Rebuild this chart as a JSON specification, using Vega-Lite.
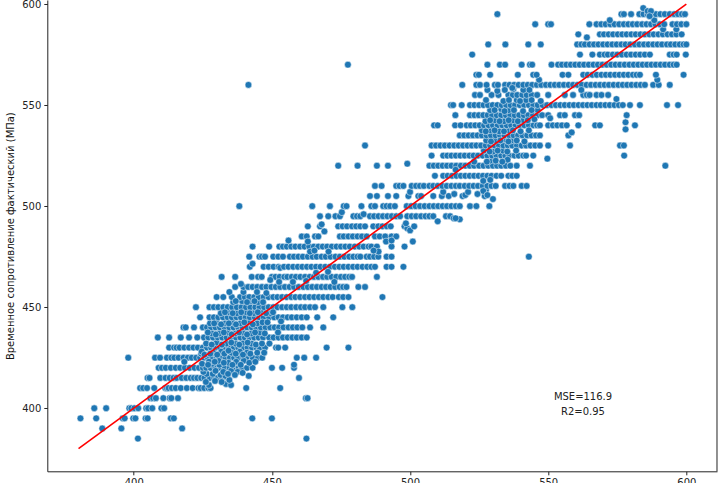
{
  "$schema": "https://vega.github.io/schema/vega-lite/v6.json",
  "width": 669.7,
  "height": 471.3,
  "autosize": "none",
  "padding": {"left": 47.3, "top": 0, "right": 7, "bottom": 12},
  "background": "white",
  "config": {
    "view": {"stroke": null},
    "font": "DejaVu Sans",
    "axis": {"grid": false, "domainColor": "#222222", "tickColor": "#222222", "labelColor": "#222222", "titleColor": "#111111", "labelFontSize": 10, "titleFontSize": 10, "titleFontWeight": "normal", "tickSize": 3.5, "labelPadding": 3, "domainWidth": 1, "tickWidth": 1, "titlePadding": 6}
  },
  "datasets": {
    "points": [
{"x":401.5,"y":385},{"x":462.5,"y":385},
{"x":388.6,"y":390},{"x":395.5,"y":390},{"x":417.5,"y":390},
{"x":380.7,"y":395},{"x":386.4,"y":395},{"x":396,"y":395},{"x":396.7,"y":395},{"x":399.8,"y":395},{"x":400.6,"y":395},{"x":404.3,"y":395},{"x":405,"y":395},{"x":413.4,"y":395},{"x":414.5,"y":395},{"x":442.9,"y":395},{"x":450,"y":395},
{"x":385.7,"y":400},{"x":390,"y":400},{"x":398.4,"y":400},{"x":399.1,"y":400},{"x":400.2,"y":400},{"x":401.6,"y":400},{"x":404.5,"y":400},{"x":405.2,"y":400},{"x":406.7,"y":400},{"x":410,"y":400},{"x":411,"y":400},
{"x":406,"y":405},{"x":407,"y":405},{"x":408,"y":405},{"x":410.7,"y":405},{"x":413,"y":405},{"x":413.6,"y":405},{"x":416,"y":405},{"x":462.3,"y":405},{"x":462.9,"y":405},
{"x":402.3,"y":410},{"x":403.4,"y":410},{"x":404.8,"y":410},{"x":407.4,"y":410},{"x":411.4,"y":410},{"x":412,"y":410},{"x":412.6,"y":410},{"x":413.8,"y":410},{"x":415.2,"y":410},{"x":417,"y":410},{"x":419.2,"y":410},{"x":421.3,"y":410},{"x":423.4,"y":410},{"x":424.2,"y":410},{"x":425.5,"y":410},{"x":427,"y":410},{"x":427.8,"y":410},{"x":440.7,"y":410},{"x":453,"y":410},{"x":427.2,"y":411.5},{"x":433.4,"y":412},{"x":435.2,"y":411.5},
{"x":405,"y":415},{"x":405.7,"y":415},{"x":409.6,"y":415},{"x":411.5,"y":415},{"x":413,"y":415},{"x":414.4,"y":415},{"x":415.5,"y":415},{"x":417.4,"y":415},{"x":419,"y":415},{"x":420.6,"y":415},{"x":421.8,"y":415},{"x":423,"y":415},{"x":424.4,"y":415},{"x":425.6,"y":415},{"x":427.5,"y":415},{"x":429.1,"y":415},{"x":430.3,"y":415},{"x":432,"y":415},{"x":434,"y":415},{"x":459.8,"y":415},{"x":426.4,"y":417},{"x":425.2,"y":418},{"x":431.4,"y":416.5},{"x":428.6,"y":417},{"x":433.2,"y":416},
{"x":409,"y":420},{"x":410.2,"y":420},{"x":411.6,"y":420},{"x":413.4,"y":420},{"x":415.2,"y":420},{"x":416.8,"y":420},{"x":418.5,"y":420},{"x":420.2,"y":420},{"x":422,"y":420},{"x":423.6,"y":420},{"x":425,"y":420},{"x":426.2,"y":420},{"x":427.8,"y":420},{"x":429.5,"y":420},{"x":431.3,"y":420},{"x":433,"y":420},{"x":434.7,"y":420},{"x":436.4,"y":420},{"x":438,"y":420},{"x":439.2,"y":420},{"x":441,"y":420},{"x":443,"y":420},{"x":450,"y":420},{"x":453.7,"y":420},{"x":458,"y":420},{"x":458,"y":421.5},{"x":435.2,"y":418.5},{"x":437.6,"y":418},{"x":431,"y":421.5},{"x":428.4,"y":422},
{"x":398,"y":425},{"x":407.7,"y":425},{"x":409.5,"y":425},{"x":412,"y":425},{"x":413.6,"y":425},{"x":414.7,"y":425},{"x":416.2,"y":425},{"x":418,"y":425},{"x":419.6,"y":425},{"x":421,"y":425},{"x":422.6,"y":425},{"x":424,"y":425},{"x":425.4,"y":425},{"x":426.8,"y":425},{"x":428.5,"y":425},{"x":430,"y":425},{"x":431.6,"y":425},{"x":433.2,"y":425},{"x":434.8,"y":425},{"x":436.3,"y":425},{"x":437.8,"y":425},{"x":439.6,"y":425},{"x":440.8,"y":425},{"x":443,"y":425},{"x":445,"y":425},{"x":446.5,"y":425},{"x":459,"y":425},{"x":461.7,"y":425},{"x":466,"y":425},{"x":418.3,"y":423},{"x":424.4,"y":427},{"x":427.2,"y":423},{"x":430.7,"y":423.5},{"x":434.3,"y":422.5},{"x":437.1,"y":423},{"x":439.8,"y":423.5},
{"x":412.8,"y":430},{"x":414.6,"y":430},{"x":415.5,"y":430},{"x":416.6,"y":430},{"x":418.3,"y":430},{"x":420,"y":430},{"x":421.6,"y":430},{"x":423.2,"y":430},{"x":425,"y":430},{"x":426.5,"y":430},{"x":428,"y":430},{"x":429.7,"y":430},{"x":431.2,"y":430},{"x":433,"y":430},{"x":434.5,"y":430},{"x":436.2,"y":430},{"x":437.8,"y":430},{"x":439.5,"y":430},{"x":441.2,"y":430},{"x":442.8,"y":430},{"x":444.4,"y":430},{"x":445.6,"y":430},{"x":447.5,"y":430},{"x":451.5,"y":430},{"x":452.3,"y":430},{"x":454.8,"y":430},{"x":469.8,"y":430},{"x":477.7,"y":430},{"x":424.6,"y":428},{"x":428.8,"y":427.5},{"x":431.7,"y":428},{"x":435.4,"y":427.5},{"x":438.4,"y":428},{"x":441,"y":427.5},{"x":433.5,"y":432},{"x":430,"y":432.5},{"x":436.8,"y":432},{"x":439.7,"y":432.5},{"x":442.6,"y":432},
{"x":408.7,"y":435},{"x":412.8,"y":435},{"x":417,"y":435},{"x":420,"y":435},{"x":423,"y":435},{"x":425.4,"y":435},{"x":427,"y":435},{"x":428.7,"y":435},{"x":430.4,"y":435},{"x":432,"y":435},{"x":433.6,"y":435},{"x":435.2,"y":435},{"x":437,"y":435},{"x":438.6,"y":435},{"x":440.2,"y":435},{"x":441.9,"y":435},{"x":443.6,"y":435},{"x":445.2,"y":435},{"x":446.8,"y":435},{"x":449,"y":435},{"x":450.6,"y":435},{"x":452.4,"y":435},{"x":454,"y":435},{"x":455.7,"y":435},{"x":457.4,"y":435},{"x":459,"y":435},{"x":460.8,"y":435},{"x":462.6,"y":435},{"x":431,"y":437},{"x":434,"y":437.5},{"x":436.7,"y":437},{"x":439.4,"y":437.5},{"x":442.5,"y":437},{"x":445.7,"y":437.5},{"x":428.3,"y":437},
{"x":418,"y":440},{"x":418.8,"y":440},{"x":421.8,"y":440},{"x":425,"y":440},{"x":426.5,"y":440},{"x":428,"y":440},{"x":429.6,"y":440},{"x":431.2,"y":440},{"x":432.9,"y":440},{"x":434.6,"y":440},{"x":436.1,"y":440},{"x":437.8,"y":440},{"x":439.4,"y":440},{"x":441,"y":440},{"x":442.7,"y":440},{"x":444.3,"y":440},{"x":446,"y":440},{"x":447.7,"y":440},{"x":449.4,"y":440},{"x":451,"y":440},{"x":452.6,"y":440},{"x":454.2,"y":440},{"x":456,"y":440},{"x":457.6,"y":440},{"x":459.2,"y":440},{"x":461,"y":440},{"x":463.8,"y":440},{"x":468.6,"y":440},{"x":430,"y":442.5},{"x":433,"y":442},{"x":435.7,"y":442.5},{"x":438.5,"y":442},{"x":441.6,"y":442.5},{"x":444.7,"y":442},{"x":427.6,"y":442},
{"x":424,"y":445},{"x":427.4,"y":445},{"x":429,"y":445},{"x":430.6,"y":445},{"x":432.3,"y":445},{"x":434,"y":445},{"x":435.5,"y":445},{"x":437.2,"y":445},{"x":438.8,"y":445},{"x":440.5,"y":445},{"x":442,"y":445},{"x":443.8,"y":445},{"x":445.4,"y":445},{"x":447,"y":445},{"x":449,"y":445},{"x":450.8,"y":445},{"x":452.4,"y":445},{"x":454,"y":445},{"x":455.7,"y":445},{"x":457.2,"y":445},{"x":459,"y":445},{"x":460.8,"y":445},{"x":462.6,"y":445},{"x":466.4,"y":445},{"x":472.2,"y":445},{"x":431.5,"y":447},{"x":434.2,"y":447.5},{"x":437.3,"y":447},{"x":440.7,"y":447.5},{"x":443.4,"y":447},{"x":446.3,"y":447.5},{"x":449.5,"y":447},{"x":453.3,"y":443},
{"x":422.5,"y":450},{"x":427.4,"y":450},{"x":429,"y":450},{"x":430.6,"y":450},{"x":432.4,"y":450},{"x":434,"y":450},{"x":435.6,"y":450},{"x":437.3,"y":450},{"x":439,"y":450},{"x":440.6,"y":450},{"x":442.2,"y":450},{"x":444,"y":450},{"x":445.5,"y":450},{"x":447.2,"y":450},{"x":448.8,"y":450},{"x":450.5,"y":450},{"x":452,"y":450},{"x":453.7,"y":450},{"x":455.4,"y":450},{"x":457,"y":450},{"x":458.8,"y":450},{"x":460.5,"y":450},{"x":462,"y":450},{"x":463.8,"y":450},{"x":465.6,"y":450},{"x":468.6,"y":450},{"x":475.5,"y":450},{"x":479.1,"y":450},{"x":436,"y":452.5},{"x":439.2,"y":453},{"x":442.4,"y":453},{"x":445,"y":452.5},
{"x":430,"y":455},{"x":432.4,"y":455},{"x":435.5,"y":455},{"x":438.5,"y":455},{"x":440.2,"y":455},{"x":441.8,"y":455},{"x":443.6,"y":455},{"x":445.2,"y":455},{"x":447,"y":455},{"x":448.8,"y":455},{"x":450.5,"y":455},{"x":452,"y":455},{"x":453.7,"y":455},{"x":455.3,"y":455},{"x":457,"y":455},{"x":458.5,"y":455},{"x":460.2,"y":455},{"x":462,"y":455},{"x":463.6,"y":455},{"x":465.3,"y":455},{"x":467,"y":455},{"x":468.6,"y":455},{"x":470.4,"y":455},{"x":472,"y":455},{"x":474.2,"y":455},{"x":475.8,"y":455},{"x":477.7,"y":455},{"x":490,"y":455},{"x":439.7,"y":457.5},{"x":434.6,"y":457.5},
{"x":436.7,"y":460},{"x":439.7,"y":460},{"x":441.4,"y":460},{"x":443,"y":460},{"x":444.7,"y":460},{"x":446.4,"y":460},{"x":448,"y":460},{"x":449.8,"y":460},{"x":451.4,"y":460},{"x":453,"y":460},{"x":454.7,"y":460},{"x":456.4,"y":460},{"x":458,"y":460},{"x":459.7,"y":460},{"x":461.4,"y":460},{"x":463,"y":460},{"x":464.6,"y":460},{"x":466.3,"y":460},{"x":468,"y":460},{"x":469.6,"y":460},{"x":471.2,"y":460},{"x":472.9,"y":460},{"x":474.5,"y":460},{"x":475.8,"y":460},{"x":477,"y":460},{"x":481.3,"y":460},{"x":483.7,"y":460},{"x":438.8,"y":461.5},
{"x":431.8,"y":465},{"x":436.7,"y":465},{"x":442.7,"y":465},{"x":445,"y":465},{"x":446.3,"y":465},{"x":450,"y":465},{"x":451.3,"y":465},{"x":452.8,"y":465},{"x":454.5,"y":465},{"x":455.6,"y":465},{"x":457.2,"y":465},{"x":458.7,"y":465},{"x":460.3,"y":465},{"x":462,"y":465},{"x":463.7,"y":465},{"x":465.2,"y":465},{"x":466.8,"y":465},{"x":468.5,"y":465},{"x":470,"y":465},{"x":471.6,"y":465},{"x":473.3,"y":465},{"x":475,"y":465},{"x":476.5,"y":465},{"x":478,"y":465},{"x":479,"y":465},{"x":488,"y":465},{"x":449.4,"y":463.5},{"x":457.6,"y":462.5},{"x":462.4,"y":463},{"x":472.6,"y":462.5},
{"x":442,"y":470},{"x":443,"y":471.5},{"x":447,"y":470},{"x":448.8,"y":470},{"x":450.6,"y":470},{"x":452.4,"y":470},{"x":453,"y":469.5},{"x":454.4,"y":470},{"x":456,"y":470},{"x":457.7,"y":470},{"x":459.4,"y":470},{"x":461,"y":470},{"x":462.7,"y":470},{"x":464.3,"y":470},{"x":466,"y":470},{"x":467.6,"y":470},{"x":469.3,"y":470},{"x":471,"y":470},{"x":472.8,"y":470},{"x":474.4,"y":470},{"x":476,"y":470},{"x":477.7,"y":470},{"x":479.4,"y":470},{"x":481,"y":470},{"x":482.8,"y":470},{"x":484.5,"y":470},{"x":486,"y":470},{"x":487.3,"y":470},{"x":491.5,"y":470},{"x":493.3,"y":470},{"x":497.6,"y":470},{"x":470.3,"y":467.5},{"x":466,"y":467},
{"x":441.8,"y":475},{"x":445.5,"y":475},{"x":446.4,"y":475},{"x":447.5,"y":475},{"x":450.5,"y":475},{"x":452.3,"y":475},{"x":454,"y":475},{"x":456.5,"y":475},{"x":458,"y":475},{"x":459.6,"y":475},{"x":461.2,"y":475},{"x":463,"y":475},{"x":464.7,"y":475},{"x":466.2,"y":475},{"x":468,"y":475},{"x":469.5,"y":475},{"x":471.2,"y":475},{"x":473,"y":475},{"x":474.6,"y":475},{"x":476.2,"y":475},{"x":478,"y":475},{"x":479.5,"y":475},{"x":481,"y":475},{"x":482,"y":475},{"x":484.3,"y":475},{"x":485.5,"y":475},{"x":487,"y":475},{"x":488.5,"y":475},{"x":491.5,"y":475},{"x":493.3,"y":475},{"x":543,"y":475},
{"x":443,"y":480},{"x":449,"y":480},{"x":452.7,"y":480},{"x":454,"y":480},{"x":455.4,"y":480},{"x":457,"y":480},{"x":458.5,"y":480},{"x":460.2,"y":480},{"x":461.8,"y":480},{"x":463.5,"y":480},{"x":465.2,"y":480},{"x":466.8,"y":480},{"x":468.4,"y":480},{"x":470,"y":480},{"x":471.7,"y":480},{"x":473.4,"y":480},{"x":475,"y":480},{"x":476.6,"y":480},{"x":478.2,"y":480},{"x":480,"y":480},{"x":481.6,"y":480},{"x":483.2,"y":480},{"x":485,"y":480},{"x":486,"y":480},{"x":488,"y":480},{"x":493.3,"y":480},{"x":498,"y":480},{"x":463.8,"y":477.5},{"x":465.4,"y":478},{"x":470.5,"y":477.5},{"x":488.6,"y":477.5},{"x":486.8,"y":478},
{"x":456,"y":483},{"x":460.8,"y":485},{"x":462.6,"y":485},{"x":465.6,"y":485},{"x":466.8,"y":485},{"x":474.6,"y":485},{"x":476,"y":485},{"x":477.7,"y":485},{"x":479.3,"y":485},{"x":481,"y":485},{"x":482.6,"y":485},{"x":484.3,"y":485},{"x":487.3,"y":485},{"x":489,"y":485},{"x":491,"y":485},{"x":493.3,"y":485},{"x":495,"y":485},{"x":463,"y":482.5},{"x":491.3,"y":482.5},{"x":493.3,"y":483},{"x":501,"y":482.5},
{"x":463,"y":490},{"x":467.4,"y":490},{"x":474,"y":490},{"x":475.6,"y":490},{"x":477.2,"y":490},{"x":479,"y":490},{"x":480.5,"y":490},{"x":482,"y":490},{"x":483.7,"y":490},{"x":486.7,"y":490},{"x":488.5,"y":490},{"x":490,"y":490},{"x":491.6,"y":490},{"x":493,"y":490},{"x":498,"y":490},{"x":499,"y":489},{"x":500,"y":488},{"x":469,"y":487.5},{"x":468,"y":491},{"x":498.5,"y":491.5},{"x":501.5,"y":490},
{"x":467.4,"y":495},{"x":470.4,"y":495},{"x":473,"y":495},{"x":474.6,"y":495},{"x":479.5,"y":495},{"x":480.8,"y":495},{"x":482,"y":495},{"x":483.2,"y":496},{"x":485.5,"y":495},{"x":487,"y":495},{"x":488.6,"y":495},{"x":490.2,"y":495},{"x":491.8,"y":495},{"x":493.4,"y":495},{"x":495,"y":495},{"x":496.4,"y":495},{"x":499,"y":495},{"x":500.6,"y":495},{"x":502.2,"y":495},{"x":504,"y":495},{"x":505.6,"y":495},{"x":507,"y":495},{"x":508.4,"y":495},{"x":510,"y":492.5},{"x":513,"y":495},{"x":514.5,"y":495},{"x":515.8,"y":494},{"x":518,"y":493.5},{"x":516.5,"y":494},{"x":475.3,"y":497},
{"x":438.2,"y":500},{"x":464.6,"y":500},{"x":471,"y":500},{"x":476,"y":500},{"x":477,"y":500},{"x":482.4,"y":500},{"x":486,"y":500},{"x":487.3,"y":500},{"x":490.3,"y":500},{"x":491.5,"y":500},{"x":492.8,"y":500},{"x":494.5,"y":500},{"x":498.8,"y":500},{"x":500.4,"y":500},{"x":502,"y":500},{"x":503.6,"y":500},{"x":505.3,"y":500},{"x":507,"y":500},{"x":508.6,"y":500},{"x":510.2,"y":500},{"x":511.8,"y":500},{"x":513.4,"y":500},{"x":515,"y":500},{"x":516.6,"y":500},{"x":518,"y":500},{"x":521.7,"y":500},{"x":524,"y":500},{"x":528.7,"y":500},
{"x":485.5,"y":505},{"x":488,"y":505},{"x":492,"y":505},{"x":495,"y":505},{"x":499.4,"y":505},{"x":503,"y":505},{"x":504,"y":505},{"x":508.4,"y":505},{"x":511.5,"y":505},{"x":514,"y":505},{"x":516,"y":506},{"x":519,"y":505},{"x":520,"y":505.5},{"x":521,"y":507},{"x":527,"y":505},{"x":530,"y":503.5},{"x":500,"y":507},{"x":512,"y":507},{"x":527.5,"y":508},
{"x":487.3,"y":510},{"x":489.7,"y":510},{"x":495,"y":510},{"x":496.2,"y":510},{"x":497.6,"y":510},{"x":500.6,"y":510},{"x":502.2,"y":510},{"x":503.6,"y":510},{"x":505,"y":510},{"x":507,"y":510},{"x":508.4,"y":510},{"x":510,"y":510},{"x":511.7,"y":510},{"x":513.3,"y":510},{"x":515,"y":510},{"x":516.6,"y":510},{"x":518,"y":510},{"x":519.8,"y":510},{"x":521.4,"y":510},{"x":523,"y":510},{"x":524.6,"y":510},{"x":526.3,"y":510},{"x":528,"y":510},{"x":529.5,"y":510},{"x":531,"y":510},{"x":534.4,"y":510},{"x":536,"y":510},{"x":537.4,"y":510},{"x":540.4,"y":510},{"x":542.2,"y":510},{"x":526.5,"y":507.5},{"x":524.4,"y":506},{"x":528,"y":505.5},
{"x":509,"y":515},{"x":512,"y":515},{"x":513.6,"y":515},{"x":515.2,"y":515},{"x":516.8,"y":515},{"x":518.4,"y":515},{"x":520,"y":515},{"x":521.6,"y":515},{"x":523.2,"y":515},{"x":524.8,"y":515},{"x":526.4,"y":515},{"x":528,"y":515},{"x":529.5,"y":515},{"x":531.3,"y":515},{"x":533,"y":515},{"x":535.6,"y":515},{"x":537,"y":515},{"x":538.6,"y":515},{"x":529,"y":513},{"x":526.5,"y":512.5},
{"x":474,"y":520},{"x":481,"y":520},{"x":488,"y":520},{"x":492,"y":520},{"x":499,"y":521},{"x":507,"y":520},{"x":508.6,"y":520},{"x":510.2,"y":520},{"x":511.8,"y":520},{"x":513.4,"y":520},{"x":515,"y":520},{"x":516.7,"y":520},{"x":518.4,"y":520},{"x":520,"y":520},{"x":521.6,"y":520},{"x":523.2,"y":520},{"x":525,"y":520},{"x":526.6,"y":520},{"x":528.3,"y":520},{"x":530,"y":520},{"x":531.5,"y":520},{"x":533,"y":520},{"x":534.7,"y":520},{"x":536.3,"y":520},{"x":538.6,"y":520},{"x":543.4,"y":520},{"x":592.4,"y":520},{"x":516.5,"y":518},{"x":529,"y":522.5},{"x":523.2,"y":522},
{"x":507.8,"y":525},{"x":512,"y":525},{"x":513.5,"y":525},{"x":515,"y":525},{"x":516.6,"y":525},{"x":518.2,"y":525},{"x":519.8,"y":525},{"x":521.5,"y":525},{"x":523,"y":525},{"x":524.6,"y":525},{"x":526.3,"y":525},{"x":528,"y":525},{"x":529.7,"y":525},{"x":531.3,"y":525},{"x":533,"y":525},{"x":534.5,"y":525},{"x":536,"y":525},{"x":537.8,"y":525},{"x":539.3,"y":525},{"x":541,"y":525},{"x":542,"y":525},{"x":544.6,"y":525},{"x":549.7,"y":523.5},{"x":577.5,"y":525},{"x":526.7,"y":527.5},{"x":530,"y":527},{"x":533.6,"y":527.5},{"x":535.3,"y":523},
{"x":483.7,"y":530},{"x":507.8,"y":530},{"x":509.4,"y":530},{"x":511,"y":530},{"x":512.6,"y":530},{"x":514.3,"y":530},{"x":516,"y":530},{"x":517.6,"y":530},{"x":519.2,"y":530},{"x":520.8,"y":530},{"x":522.4,"y":530},{"x":524,"y":530},{"x":525.7,"y":530},{"x":527.4,"y":530},{"x":529,"y":530},{"x":530.6,"y":530},{"x":532.2,"y":530},{"x":533.8,"y":530},{"x":535.4,"y":530},{"x":537,"y":530},{"x":538.7,"y":530},{"x":540.4,"y":530},{"x":542,"y":530},{"x":543.6,"y":530},{"x":545.3,"y":530},{"x":547,"y":530},{"x":550,"y":530},{"x":557.9,"y":530},{"x":576,"y":530},{"x":577.4,"y":530},{"x":530.8,"y":532.5},{"x":534,"y":533},{"x":527.6,"y":532.5},{"x":536.7,"y":532.5},
{"x":518,"y":535},{"x":519.6,"y":535},{"x":521.2,"y":535},{"x":522.8,"y":535},{"x":524.4,"y":535},{"x":526,"y":535},{"x":527.7,"y":535},{"x":529.3,"y":535},{"x":531,"y":535},{"x":532.6,"y":535},{"x":534.2,"y":535},{"x":535.9,"y":535},{"x":537.5,"y":535},{"x":539.1,"y":535},{"x":540.7,"y":535},{"x":542.4,"y":535},{"x":544,"y":535},{"x":545.6,"y":535},{"x":547,"y":535},{"x":557.3,"y":535},{"x":558.5,"y":536.5},{"x":529,"y":537.5},{"x":532.3,"y":537},{"x":535.6,"y":537.5},{"x":526,"y":537.5},
{"x":508.7,"y":540},{"x":510,"y":540},{"x":516.3,"y":540},{"x":518.3,"y":540},{"x":520.5,"y":540},{"x":522,"y":540},{"x":523.6,"y":540},{"x":525.2,"y":540},{"x":526.8,"y":540},{"x":528.4,"y":540},{"x":530,"y":540},{"x":531.7,"y":540},{"x":533.4,"y":540},{"x":535,"y":540},{"x":536.6,"y":540},{"x":538.2,"y":540},{"x":539.8,"y":540},{"x":541.4,"y":540},{"x":543,"y":540},{"x":544.7,"y":540},{"x":546,"y":540},{"x":547,"y":540},{"x":550,"y":540},{"x":551.7,"y":540},{"x":553.3,"y":540},{"x":555,"y":540},{"x":556.7,"y":540},{"x":560.9,"y":540},{"x":567,"y":540},{"x":568.7,"y":540},{"x":578,"y":541.5},{"x":581.4,"y":540},{"x":530.7,"y":542.5},{"x":534,"y":542},{"x":537.3,"y":542.5},{"x":527.3,"y":542},{"x":541,"y":542.5},{"x":578,"y":538},
{"x":516.4,"y":545},{"x":521.7,"y":545},{"x":523.3,"y":545},{"x":524.9,"y":545},{"x":526.5,"y":545},{"x":528.1,"y":545},{"x":529.7,"y":545},{"x":531.4,"y":545},{"x":533,"y":545},{"x":534.7,"y":545},{"x":536.3,"y":545},{"x":537.9,"y":545},{"x":539.5,"y":545},{"x":541.2,"y":545},{"x":542.8,"y":545},{"x":544.5,"y":545},{"x":546.1,"y":545},{"x":547.8,"y":545},{"x":550,"y":545},{"x":554.3,"y":545},{"x":556,"y":545},{"x":559.7,"y":545},{"x":561.2,"y":545},{"x":578.4,"y":545},{"x":529,"y":547.5},{"x":533,"y":548},{"x":535.7,"y":547.5},{"x":546.2,"y":547.5},{"x":545,"y":543},{"x":550.7,"y":543.5},
{"x":514.8,"y":550},{"x":515.6,"y":550},{"x":518.7,"y":550},{"x":521.7,"y":550},{"x":523.3,"y":550},{"x":525,"y":550},{"x":526.6,"y":550},{"x":528.2,"y":550},{"x":529.9,"y":550},{"x":531.6,"y":550},{"x":533.2,"y":550},{"x":534.8,"y":550},{"x":536.4,"y":550},{"x":538,"y":550},{"x":539.7,"y":550},{"x":541.3,"y":550},{"x":543,"y":550},{"x":544.6,"y":550},{"x":546.2,"y":550},{"x":548,"y":550},{"x":549.6,"y":550},{"x":551.2,"y":550},{"x":552.8,"y":550},{"x":554.4,"y":550},{"x":556,"y":550},{"x":557.7,"y":550},{"x":559.3,"y":550},{"x":561,"y":550},{"x":562.6,"y":550},{"x":564.2,"y":550},{"x":565.8,"y":550},{"x":567.5,"y":550},{"x":569,"y":550},{"x":570.7,"y":550},{"x":572.3,"y":550},{"x":574,"y":550},{"x":575.6,"y":550},{"x":577,"y":550},{"x":579.6,"y":550},{"x":583.2,"y":550},{"x":593,"y":550},{"x":597,"y":550},{"x":527.5,"y":552.5},{"x":533.8,"y":552},{"x":538.6,"y":552.5},{"x":542,"y":552.5},
{"x":523.5,"y":555},{"x":525.3,"y":555},{"x":529.5,"y":555},{"x":532,"y":555},{"x":535.6,"y":555},{"x":537.2,"y":555},{"x":538.8,"y":555},{"x":540.6,"y":555},{"x":542.2,"y":555},{"x":544,"y":555},{"x":546,"y":555},{"x":550,"y":555},{"x":556,"y":555},{"x":559,"y":555},{"x":562.7,"y":555},{"x":564,"y":555},{"x":565,"y":555},{"x":567.5,"y":555},{"x":569.3,"y":555},{"x":571.7,"y":555},{"x":528,"y":557.5},{"x":531.6,"y":557},{"x":541,"y":557.5},{"x":537.4,"y":558},{"x":574.7,"y":553},
{"x":441.5,"y":560},{"x":518.9,"y":560},{"x":524,"y":560},{"x":525.3,"y":560},{"x":527.7,"y":560},{"x":530.7,"y":560},{"x":531.8,"y":560},{"x":534.4,"y":560},{"x":536,"y":560},{"x":537.7,"y":560},{"x":539.3,"y":560},{"x":541,"y":560},{"x":542.6,"y":560},{"x":544.2,"y":560},{"x":545.9,"y":560},{"x":547.5,"y":560},{"x":549.2,"y":560},{"x":550.8,"y":560},{"x":552.4,"y":560},{"x":554,"y":560},{"x":555.7,"y":560},{"x":557.4,"y":560},{"x":559,"y":560},{"x":560.6,"y":560},{"x":562.2,"y":560},{"x":563.9,"y":560},{"x":565.5,"y":560},{"x":567.2,"y":560},{"x":568.8,"y":560},{"x":570.4,"y":560},{"x":572,"y":560},{"x":573.7,"y":560},{"x":575.4,"y":560},{"x":577,"y":560},{"x":578.6,"y":560},{"x":580.2,"y":560},{"x":581.9,"y":560},{"x":583.5,"y":560},{"x":585,"y":560},{"x":588,"y":560},{"x":590,"y":560},{"x":594,"y":560},{"x":589.5,"y":562.5},{"x":546.7,"y":562.5},{"x":537,"y":558.5},{"x":562,"y":557.5},
{"x":524,"y":565},{"x":524.9,"y":565},{"x":529,"y":565},{"x":539,"y":565},{"x":544.6,"y":565},{"x":545.8,"y":565},{"x":555.2,"y":565},{"x":557.3,"y":565},{"x":562.7,"y":565},{"x":564.3,"y":565},{"x":566,"y":565},{"x":567.6,"y":565},{"x":569.3,"y":565},{"x":570.9,"y":565},{"x":572.5,"y":565},{"x":574.2,"y":565},{"x":575.8,"y":565},{"x":577.4,"y":565},{"x":579,"y":565},{"x":580.7,"y":565},{"x":582,"y":565},{"x":583.2,"y":565},{"x":589,"y":565},{"x":599,"y":565},
{"x":477.5,"y":570},{"x":528,"y":570},{"x":532.5,"y":570},{"x":534.4,"y":570},{"x":540.4,"y":570},{"x":543.4,"y":570},{"x":544.2,"y":570},{"x":551.2,"y":570},{"x":553.6,"y":570},{"x":555,"y":570},{"x":556.6,"y":570},{"x":558.2,"y":570},{"x":559.8,"y":570},{"x":561.4,"y":570},{"x":563,"y":570},{"x":564.7,"y":570},{"x":566.4,"y":570},{"x":568,"y":570},{"x":569.6,"y":570},{"x":571.2,"y":570},{"x":572.8,"y":570},{"x":574.4,"y":570},{"x":576,"y":570},{"x":577.7,"y":570},{"x":579.4,"y":570},{"x":581,"y":570},{"x":582.6,"y":570},{"x":584.2,"y":570},{"x":585.8,"y":570},{"x":587.4,"y":570},{"x":589,"y":570},{"x":590.7,"y":570},{"x":592.3,"y":570},{"x":594,"y":570},{"x":595.4,"y":570},{"x":596.5,"y":570},
{"x":522.5,"y":575},{"x":561.5,"y":575},{"x":566,"y":575},{"x":568.7,"y":575},{"x":570.4,"y":575},{"x":571.6,"y":575},{"x":573.4,"y":575},{"x":575,"y":575},{"x":576.7,"y":575},{"x":578.4,"y":575},{"x":580,"y":575},{"x":581.7,"y":575},{"x":583.3,"y":575},{"x":585,"y":575},{"x":586.8,"y":575},{"x":594,"y":575},{"x":595.4,"y":575},{"x":596.5,"y":575},{"x":599.8,"y":575},
{"x":528.3,"y":580},{"x":534.5,"y":580},{"x":542.8,"y":580},{"x":547.3,"y":580},{"x":560.5,"y":580},{"x":562,"y":580},{"x":563.3,"y":580},{"x":565,"y":580},{"x":566.6,"y":580},{"x":568.2,"y":580},{"x":569.9,"y":580},{"x":571.5,"y":580},{"x":573.2,"y":580},{"x":574.8,"y":580},{"x":576.5,"y":580},{"x":578,"y":580},{"x":579.7,"y":580},{"x":581.4,"y":580},{"x":583,"y":580},{"x":584.7,"y":580},{"x":586.3,"y":580},{"x":588,"y":580},{"x":589.6,"y":580},{"x":591.2,"y":580},{"x":593,"y":580},{"x":594.4,"y":580},{"x":596,"y":580},{"x":597.6,"y":580},{"x":599,"y":580},{"x":600,"y":580},
{"x":560.9,"y":585},{"x":564,"y":583.5},{"x":568.7,"y":585},{"x":570.2,"y":585},{"x":571.9,"y":585},{"x":573.5,"y":585},{"x":575.2,"y":585},{"x":576.8,"y":585},{"x":578.4,"y":585},{"x":580.1,"y":585},{"x":581.7,"y":585},{"x":583.4,"y":585},{"x":585,"y":585},{"x":586.6,"y":585},{"x":588.2,"y":585},{"x":589.9,"y":585},{"x":591.5,"y":585},{"x":593.2,"y":585},{"x":594.8,"y":585},{"x":596.4,"y":585},{"x":598.3,"y":585},{"x":591.6,"y":587.5},{"x":596.4,"y":587.5},
{"x":545.3,"y":590},{"x":550,"y":590},{"x":551,"y":590},{"x":564.9,"y":590},{"x":567.5,"y":590},{"x":569.2,"y":590},{"x":570.8,"y":590},{"x":572.5,"y":590},{"x":574,"y":590},{"x":575.7,"y":590},{"x":577.4,"y":590},{"x":579,"y":590},{"x":580.6,"y":590},{"x":582.2,"y":590},{"x":584,"y":590},{"x":585.6,"y":590},{"x":587.2,"y":590},{"x":588.8,"y":590},{"x":590.4,"y":590},{"x":592,"y":590},{"x":595,"y":590},{"x":596.6,"y":590},{"x":598.2,"y":590},{"x":600,"y":590},{"x":572.3,"y":592},{"x":588.4,"y":592},
{"x":531.6,"y":595},{"x":576.5,"y":595},{"x":577.4,"y":595},{"x":580,"y":595},{"x":583,"y":595},{"x":584.5,"y":595},{"x":586,"y":595},{"x":587.4,"y":595},{"x":589,"y":595},{"x":590.6,"y":595},{"x":592.2,"y":595},{"x":594,"y":595},{"x":595.6,"y":595},{"x":597,"y":595},{"x":598.4,"y":595},{"x":599.5,"y":595},{"x":584.4,"y":598},{"x":586,"y":596.5},{"x":587.2,"y":596.5},{"x":586.7,"y":594},
{"x":426.1,"y":413},{"x":429.4,"y":413.5},{"x":431.8,"y":413},{"x":434.6,"y":414},{"x":429.6,"y":418.5},{"x":432.4,"y":418},{"x":434.1,"y":417},{"x":436.6,"y":416.5},{"x":439.4,"y":417.5},{"x":441.6,"y":416},{"x":424.7,"y":422},{"x":426.9,"y":421.5},{"x":429.3,"y":423},{"x":432.6,"y":422.5},{"x":435.7,"y":421.5},{"x":438.7,"y":421.5},{"x":441.8,"y":422.5},{"x":444,"y":423},{"x":425.6,"y":426.5},{"x":427.7,"y":427},{"x":430.2,"y":426.5},{"x":432.8,"y":427},{"x":434.3,"y":428.5},{"x":436.9,"y":427},{"x":439.5,"y":426.5},{"x":442.2,"y":427},{"x":444.7,"y":427.5},{"x":426.2,"y":432},{"x":428.2,"y":431.5},{"x":431.9,"y":431.5},{"x":435.3,"y":432.5},{"x":438.2,"y":431.5},{"x":441.2,"y":432.5},{"x":444.2,"y":431.5},{"x":446.4,"y":432},{"x":426.8,"y":437.5},{"x":429.7,"y":436.5},{"x":432.6,"y":437.5},{"x":435.4,"y":436.5},{"x":438.1,"y":437.5},{"x":441,"y":436.5},{"x":443.9,"y":437.5},{"x":447.4,"y":437},{"x":429.1,"y":442},{"x":431.6,"y":441.5},{"x":434.4,"y":442},{"x":437,"y":441.5},{"x":440,"y":442.5},{"x":443.1,"y":441.5},{"x":446.6,"y":442.5},{"x":433,"y":447.5},{"x":435.8,"y":447},{"x":438.9,"y":447.5},{"x":442,"y":447},{"x":444.9,"y":447.5},{"x":447.9,"y":447},{"x":436.9,"y":453},{"x":441,"y":452.5},{"x":443.7,"y":453},{"x":446.8,"y":452.5},
{"x":527.8,"y":522},{"x":531,"y":522.5},{"x":533.4,"y":522},{"x":528.8,"y":527},{"x":531.7,"y":527.5},{"x":535.2,"y":527},{"x":538.4,"y":527.5},{"x":529.3,"y":532},{"x":532.7,"y":532.5},{"x":535.6,"y":532},{"x":538.6,"y":532.5},{"x":541.4,"y":532},{"x":527.4,"y":537},{"x":530.6,"y":537.5},{"x":534,"y":537},{"x":537.2,"y":537.5},{"x":540,"y":537},{"x":543,"y":537.5},{"x":529,"y":542.5},{"x":532.4,"y":542},{"x":535.7,"y":542.5},{"x":539,"y":542},{"x":542.6,"y":542.5},{"x":530.6,"y":547.5},{"x":534.2,"y":547},{"x":537.6,"y":547.5},{"x":540.9,"y":547},{"x":544,"y":547.5},{"x":535.8,"y":552.5},{"x":539.8,"y":552},{"x":544,"y":552.5},{"x":547.3,"y":552},{"x":534.3,"y":557.5},{"x":543.2,"y":557.5},
{"x":444.6,"y":457.5},{"x":448,"y":457},{"x":452.6,"y":462.5},{"x":450.4,"y":447.5},{"x":448.4,"y":442.5},{"x":452.2,"y":437.5},{"x":447.2,"y":427.5},{"x":449.1,"y":432}
    ],
    "fit": [{"x": 380, "y": 380}, {"x": 600, "y": 600}],
    "notes": [{"x": 562.6, "y": 405.4, "label": "MSE=116.9"}, {"x": 562.6, "y": 398, "label": "R2=0.95"}]
  },
  "encoding": {
    "x": {"field": "x", "type": "quantitative", "scale": {"domain": [368.7, 611.1], "nice": false, "zero": false}, "axis": {"values": [400, 450, 500, 550, 600], "title": null}},
    "y": {"field": "y", "type": "quantitative", "scale": {"domain": [368.8, 602], "nice": false, "zero": false}, "axis": {"values": [400, 450, 500, 550, 600], "title": "Временное сопротивление фактический (МПа)"}}
  },
  "layer": [
    {
      "data": {"name": "points"},
      "mark": {"type": "point", "filled": true, "fill": "#1f77b4", "size": 46, "stroke": "white", "strokeWidth": 0.5, "opacity": 1}
    },
    {
      "data": {"name": "fit"},
      "mark": {"type": "line", "color": "#ff0000", "strokeWidth": 1.6}
    },
    {
      "data": {"name": "notes"},
      "mark": {"type": "text", "fontSize": 10, "color": "#222222", "align": "center", "baseline": "middle"},
      "encoding": {"text": {"field": "label"}}
    },
    {
      "data": {"values": [{"edge": 611.1}]},
      "mark": {"type": "rule", "color": "#222222", "strokeWidth": 1},
      "encoding": {"x": {"field": "edge", "type": "quantitative"}, "y": {"value": 0}, "y2": {"value": 471.3}}
    }
  ]
}
